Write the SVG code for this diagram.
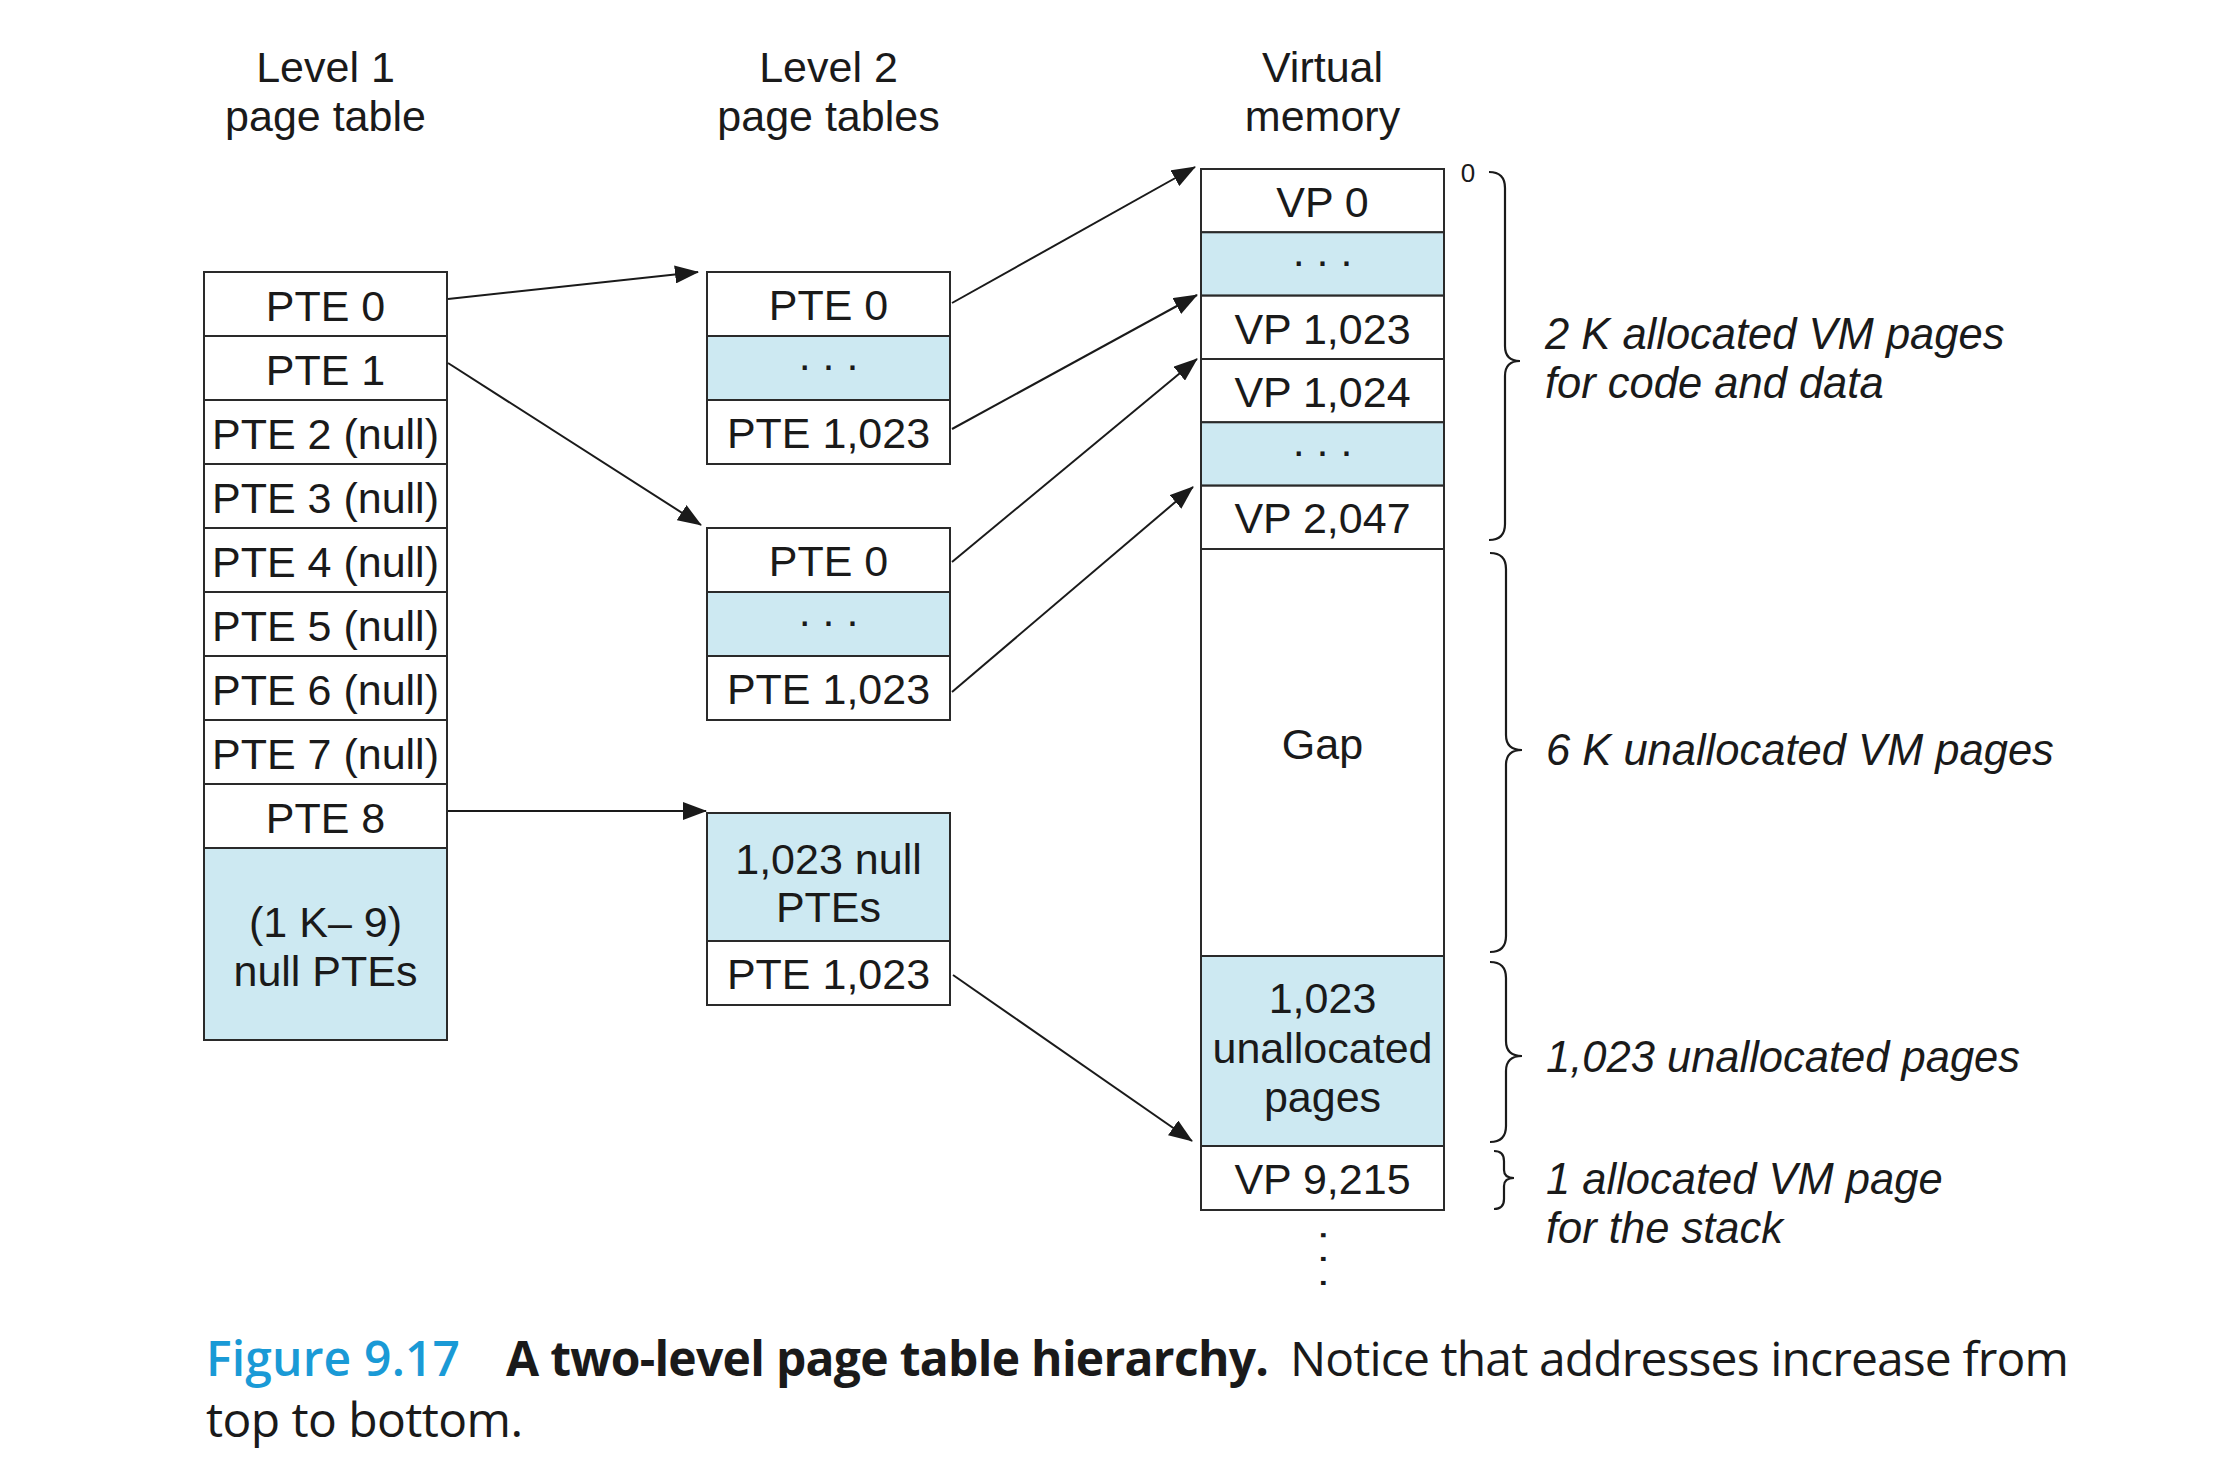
<svg xmlns="http://www.w3.org/2000/svg" width="2216" height="1476" viewBox="0 0 2216 1476">
<defs>
<marker id="arr" markerUnits="userSpaceOnUse" markerWidth="24" markerHeight="18" refX="23" refY="9" orient="auto">
<path d="M0,0 L24,9 L0,18 z" fill="#1a1a1a"/>
</marker>
<style>
.cell{fill:#ffffff;stroke:#2a2a2a;stroke-width:2}
.blue{fill:#cde9f2;stroke:#2a2a2a;stroke-width:2}
.t{font-family:"Liberation Sans",Arial,Helvetica,sans-serif;font-size:43px;fill:#1a1a1a;text-anchor:middle}
.lbl{font-family:"Liberation Sans",Arial,Helvetica,sans-serif;font-size:43.5px;font-style:italic;fill:#1a1a1a}
.small{font-family:"Liberation Sans",Arial,Helvetica,sans-serif;font-size:26px;fill:#1a1a1a;text-anchor:middle}
.conn{stroke:#1a1a1a;stroke-width:2;fill:none}
.brace{stroke:#1a1a1a;stroke-width:2.2;fill:none}
.cap{font-family:"Open Sans","Noto Sans",sans-serif;font-size:48px}
</style>
</defs>
<rect width="2216" height="1476" fill="#ffffff"/>

<g id="headers">
<text class="t" x="325.5" y="82">Level 1</text>
<text class="t" x="325.5" y="131">page table</text>
<text class="t" x="828.5" y="82">Level 2</text>
<text class="t" x="828.5" y="131">page tables</text>
<text class="t" x="1322.5" y="82">Virtual</text>
<text class="t" x="1322.5" y="131">memory</text>
</g>

<g id="level1">
<rect class="cell" x="204" y="272" width="243" height="64"/>
<rect class="cell" x="204" y="336" width="243" height="64"/>
<rect class="cell" x="204" y="400" width="243" height="64"/>
<rect class="cell" x="204" y="464" width="243" height="64"/>
<rect class="cell" x="204" y="528" width="243" height="64"/>
<rect class="cell" x="204" y="592" width="243" height="64"/>
<rect class="cell" x="204" y="656" width="243" height="64"/>
<rect class="cell" x="204" y="720" width="243" height="64"/>
<rect class="cell" x="204" y="784" width="243" height="64"/>
<rect class="blue" x="204" y="848" width="243" height="192"/>
<text class="t" x="325.5" y="321">PTE 0</text>
<text class="t" x="325.5" y="385">PTE 1</text>
<text class="t" x="325.5" y="449">PTE 2 (null)</text>
<text class="t" x="325.5" y="513">PTE 3 (null)</text>
<text class="t" x="325.5" y="577">PTE 4 (null)</text>
<text class="t" x="325.5" y="641">PTE 5 (null)</text>
<text class="t" x="325.5" y="705">PTE 6 (null)</text>
<text class="t" x="325.5" y="769">PTE 7 (null)</text>
<text class="t" x="325.5" y="833">PTE 8</text>
<text class="t" x="325.5" y="937">(1 K– 9)</text>
<text class="t" x="325.5" y="986">null PTEs</text>
</g>

<g id="level2-a">
<rect class="cell" x="707" y="272" width="243" height="64"/>
<rect class="blue" x="707" y="336" width="243" height="64"/>
<rect class="cell" x="707" y="400" width="243" height="64"/>
<text class="t" x="828.5" y="320">PTE 0</text>
<text class="t" x="828.5" y="370">. . .</text>
<text class="t" x="828.5" y="448">PTE 1,023</text>
</g>

<g id="level2-b">
<rect class="cell" x="707" y="528" width="243" height="64"/>
<rect class="blue" x="707" y="592" width="243" height="64"/>
<rect class="cell" x="707" y="656" width="243" height="64"/>
<text class="t" x="828.5" y="576">PTE 0</text>
<text class="t" x="828.5" y="626">. . .</text>
<text class="t" x="828.5" y="704">PTE 1,023</text>
</g>

<g id="level2-c">
<rect class="blue" x="707" y="813" width="243" height="128"/>
<rect class="cell" x="707" y="941" width="243" height="64"/>
<text class="t" x="828.5" y="874">1,023 null</text>
<text class="t" x="828.5" y="922">PTEs</text>
<text class="t" x="828.5" y="989">PTE 1,023</text>
</g>

<g id="virtual-memory">
<rect class="cell" x="1201" y="169" width="243" height="63.3"/>
<rect class="blue" x="1201" y="232.3" width="243" height="63.3"/>
<rect class="cell" x="1201" y="295.7" width="243" height="63.3"/>
<rect class="cell" x="1201" y="359" width="243" height="63.3"/>
<rect class="blue" x="1201" y="422.3" width="243" height="63.3"/>
<rect class="cell" x="1201" y="485.7" width="243" height="63.3"/>
<rect class="cell" x="1201" y="549" width="243" height="407"/>
<rect class="blue" x="1201" y="956" width="243" height="190"/>
<rect class="cell" x="1201" y="1146" width="243" height="64"/>
<text class="t" x="1322.5" y="217">VP 0</text>
<text class="t" x="1322.5" y="266">. . .</text>
<text class="t" x="1322.5" y="344">VP 1,023</text>
<text class="t" x="1322.5" y="407">VP 1,024</text>
<text class="t" x="1322.5" y="456">. . .</text>
<text class="t" x="1322.5" y="533">VP 2,047</text>
<text class="t" x="1322.5" y="759">Gap</text>
<text class="t" x="1322.5" y="1013">1,023</text>
<text class="t" x="1322.5" y="1063">unallocated</text>
<text class="t" x="1322.5" y="1112">pages</text>
<text class="t" x="1322.5" y="1194">VP 9,215</text>
<text class="t" transform="translate(1320.5,1259) rotate(90)" x="0" y="0">. . .</text>
<text class="small" x="1468" y="182">0</text>
</g>

<g id="annotations">
<path class="brace" d="M1489,172 Q1505,172 1505,188 L1505,346 Q1505,361 1520,361 Q1505,361 1505,376 L1505,524 Q1505,540 1489,540"/>
<path class="brace" d="M1490,553 Q1506,553 1506,569 L1506,735 Q1506,750 1522,750 Q1506,750 1506,765 L1506,936 Q1506,952 1490,952"/>
<path class="brace" d="M1490,962 Q1506,962 1506,978 L1506,1041 Q1506,1056 1522,1056 Q1506,1056 1506,1071 L1506,1126 Q1506,1142 1490,1142"/>
<path class="brace" d="M1494,1151 Q1504,1151 1504,1161 L1504,1170 Q1504,1178 1514,1178 Q1504,1178 1504,1186 L1504,1199 Q1504,1209 1494,1209"/>
<text class="lbl" x="1545" y="349">2 K allocated VM pages</text>
<text class="lbl" x="1545" y="398">for code and data</text>
<text class="lbl" x="1546" y="765">6 K unallocated VM pages</text>
<text class="lbl" x="1546" y="1072">1,023 unallocated pages</text>
<text class="lbl" x="1546" y="1194">1 allocated VM page</text>
<text class="lbl" x="1546" y="1243">for the stack</text>
</g>

<g id="connectors">
<line class="conn" x1="448" y1="299" x2="698" y2="272" marker-end="url(#arr)"/>
<line class="conn" x1="448" y1="363" x2="701" y2="525" marker-end="url(#arr)"/>
<line class="conn" x1="448" y1="811" x2="706" y2="811" marker-end="url(#arr)"/>
<line class="conn" x1="952" y1="303" x2="1195" y2="167" marker-end="url(#arr)"/>
<line class="conn" x1="952" y1="429" x2="1197" y2="295" marker-end="url(#arr)"/>
<line class="conn" x1="952" y1="562" x2="1197" y2="359" marker-end="url(#arr)"/>
<line class="conn" x1="952" y1="692" x2="1193" y2="487" marker-end="url(#arr)"/>
<line class="conn" x1="953" y1="975" x2="1192" y2="1141" marker-end="url(#arr)"/>
</g>

<g id="caption">
<text class="cap" x="206" y="1376" fill="#1a9ad6" font-weight="600" textLength="254" lengthAdjust="spacing">Figure 9.17</text>
<text class="cap" x="506" y="1376" fill="#1a1a1a" font-weight="700" textLength="763" lengthAdjust="spacing">A two-level page table hierarchy.</text>
<text class="cap" x="1290" y="1376" fill="#1a1a1a" textLength="779" lengthAdjust="spacing">Notice that addresses increase from</text>
<text class="cap" x="206" y="1437" fill="#1a1a1a" textLength="317" lengthAdjust="spacing">top to bottom.</text>
</g>
</svg>
